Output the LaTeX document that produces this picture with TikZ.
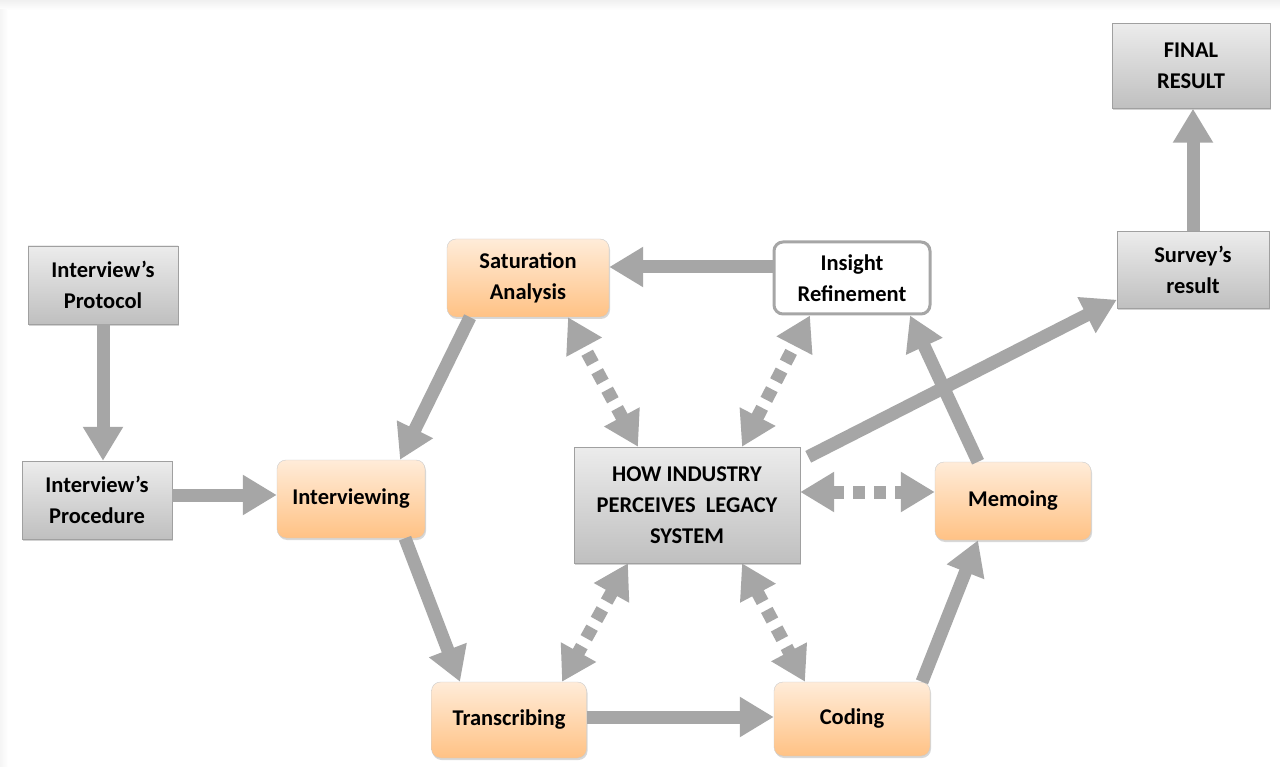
\documentclass[tikz,border=0pt]{standalone}
\usepackage{fontspec}
\setmainfont{Carlito}
\usetikzlibrary{arrows.meta,shadows}
\definecolor{arrgray}{HTML}{A6A6A6}
\definecolor{boxline}{HTML}{A0A0A0}
\tikzset{
  box/.style={minimum width=150pt, minimum height=78pt, align=center,
    font=\fontsize{22.5}{31}\selectfont\bfseries, inner sep=2pt},
  graybox/.style={box, draw=boxline, top color=gray!15, bottom color=gray!50,
    drop shadow={shadow xshift=1pt, shadow yshift=-2pt, opacity=0.35}},
  orangebox/.style={box, draw=gray!40, rounded corners=9pt,
    top color=orange!15, bottom color=orange!48,
    drop shadow={shadow xshift=1pt, shadow yshift=-2pt, opacity=0.3}},
  whitebox/.style={box, draw=arrgray, line width=3pt, rounded corners=9pt, fill=white},
  flow/.style={draw=arrgray, line width=13pt, -{Triangle[width=38pt,length=34pt]}},
  dots/.style={draw=arrgray, line width=13pt, dash pattern=on 12pt off 9pt,
    {Triangle[width=38pt,length=34pt]}-{Triangle[width=38pt,length=34pt]}}
}
\begin{document}
\begin{tikzpicture}[x=1pt, y=-1pt]
        \useasboundingbox (0,0) rectangle (1280,767);
        \fill[white] (0,0) rectangle (1280,767);
        \shade[top color=gray!12, bottom color=white] (0,0) rectangle (1280,10);
        \shade[left color=gray!8, right color=white] (0,10) rectangle (8,767);

        % boxes
        \node[graybox] (prot) at (103,285) {Interview’s\\Protocol};
        \node[graybox] (proc) at (97,500) {Interview’s\\Procedure};
        \node[orangebox, minimum width=148pt] (interv) at (351,499) {Interviewing};
        \node[orangebox, minimum width=162pt] (satur) at (528,278) {Saturation\\Analysis};
        \node[whitebox, minimum width=156pt, minimum height=72pt] (insight) at (852,278) {Insight\\Refinement};
        \node[graybox, minimum width=226pt, minimum height=116pt] (how) at (687,505) {HOW INDUSTRY\\PERCEIVES\ \ LEGACY\\SYSTEM};
        \node[orangebox, minimum width=156pt] (memo) at (1013,501) {Memoing};
        \node[orangebox, minimum width=155pt, minimum height=76pt] (trans) at (509,720) {Transcribing};
        \node[orangebox, minimum width=156pt, minimum height=74pt] (coding) at (852,719) {Coding};
        \node[graybox, minimum width=152pt, minimum height=77pt] (survey) at (1193,270) {Survey’s\\result};
        \node[graybox, minimum width=158pt, minimum height=85pt] (final) at (1191,66) {FINAL\\RESULT};

        % process arrows
        \draw[flow] (prot.south) -- (prot.south |- proc.north);
        \draw[flow] ([yshift=5pt]proc.east) -- ([yshift=5pt]proc.east -| interv.west);
        \draw[flow] ([xshift=-58pt]satur.south) -- ([xshift=49pt]interv.north);
        \draw[flow] ([xshift=54pt]interv.south) -- ([xshift=-49pt]trans.north);
        \draw[flow] ([yshift=3pt]trans.east) -- ([yshift=3pt]trans.east -| coding.west);
        \draw[flow] ([xshift=70pt]coding.north) -- ([xshift=-35pt]memo.south);
        \draw[flow] ([xshift=-35pt]memo.north) -- ([xshift=58pt]insight.south);
        \draw[flow] ([yshift=11pt]insight.west) -- ([yshift=11pt]insight.west -| satur.east);
        \draw[flow] ([xshift=8pt,yshift=-10pt]how.north east) -- ([yshift=9pt]survey.south west);
        \draw[flow] (survey.north) -- (survey.north |- final.south);

        % links with the core category
        \coordinate (hm) at ([yshift=13pt]how.east);
        \draw[dots] ([xshift=-49pt]how.north) -- ([xshift=40pt]satur.south);
        \draw[dots] ([xshift=55pt]how.north) -- ([xshift=-42pt]insight.south);
        \draw[dots] (hm) -- (hm -| memo.west);
        \draw[dots] ([xshift=-59pt]how.south) -- ([xshift=53pt]trans.north);
        \draw[dots] ([xshift=55pt]how.south) -- ([xshift=-47pt]coding.north);
\end{tikzpicture}
\end{document}
